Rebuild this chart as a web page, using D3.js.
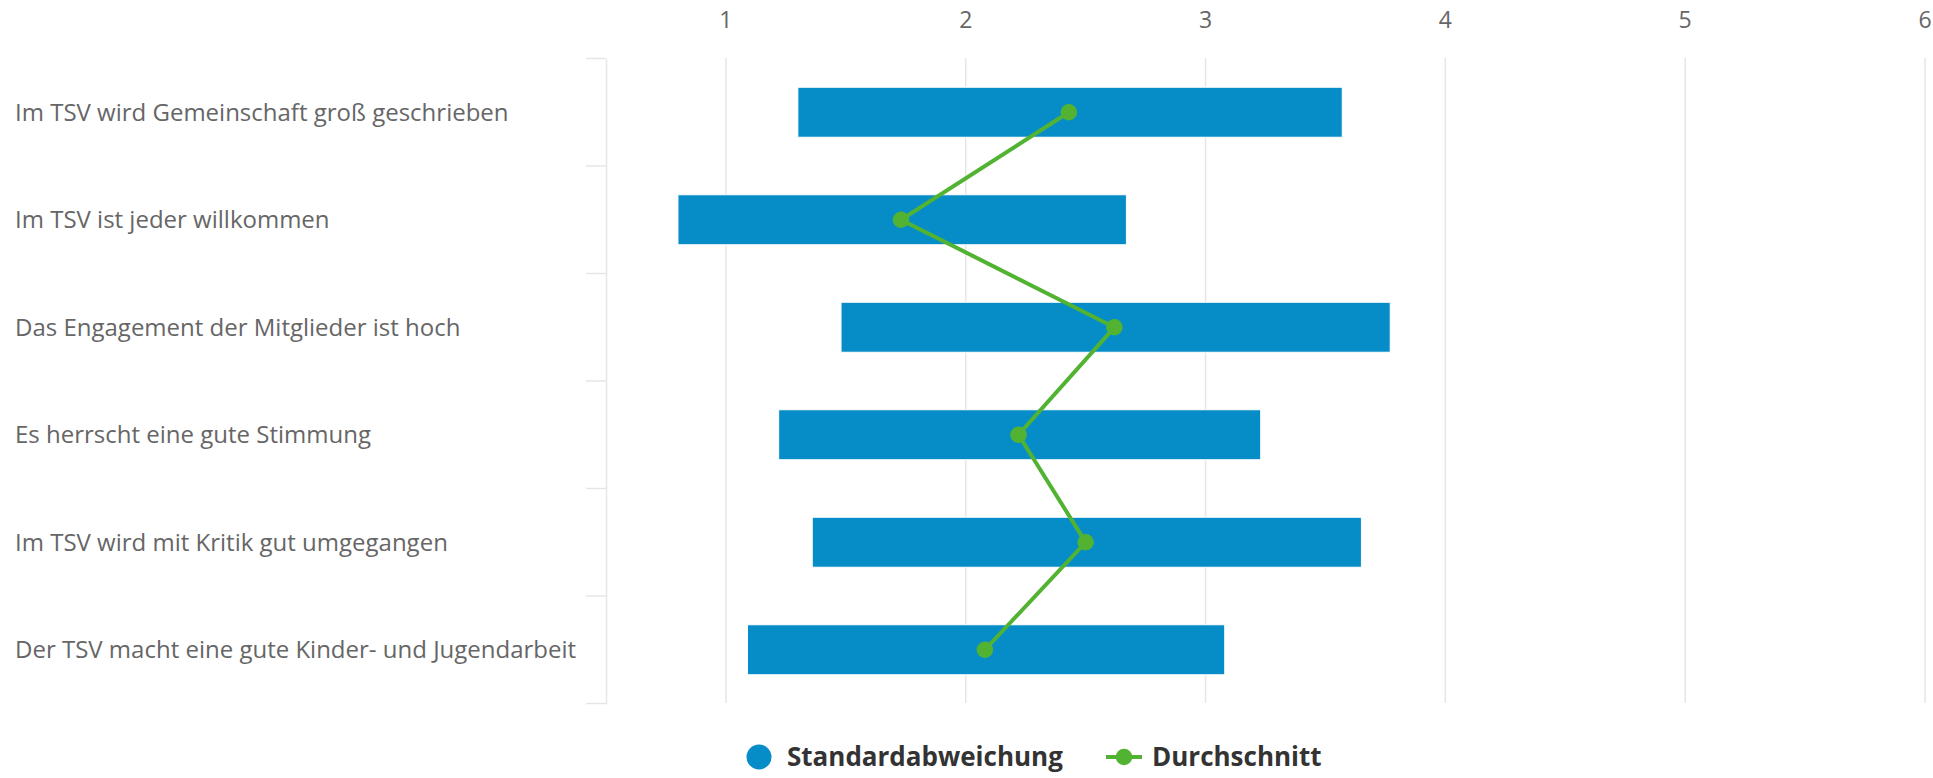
<!DOCTYPE html>
<html><head><meta charset="utf-8">
<script src="https://cdn.jsdelivr.net/npm/d3@7"></script>
<style>body{margin:0;background:#fff}svg{display:block}text{font-family:"Open Sans",sans-serif}</style>
</head><body><svg id="c" width="1933" height="778"></svg>
<script>
const categories = ["Im TSV wird Gemeinschaft groß geschrieben","Im TSV ist jeder willkommen","Das Engagement der Mitglieder ist hoch","Es herrscht eine gute Stimmung","Im TSV wird mit Kritik gut umgegangen","Der TSV macht eine gute Kinder- und Jugendarbeit"];
const sdLow = [1.30, 0.80, 1.48, 1.22, 1.36, 1.09];
const sdHigh = [3.57, 2.67, 3.77, 3.23, 3.65, 3.08];
const mean = [2.43, 1.73, 2.62, 2.22, 2.50, 2.08];
const xTicks = [1,2,3,4,5,6];
const legendLabels = ["Standardabweichung","Durchschnitt"];

const svg = d3.select("#c");
const x = d3.scaleLinear().domain([0.5, 6]).range([606, 1925]);
const y = d3.scaleBand().domain(categories).range([58.5, 703.5]).padding(0);
const barH = y.bandwidth()*0.465;
const blue = "#068dc7", green = "#52b332";

// grid
svg.append("g").selectAll("line").data(xTicks).join("line")
  .attr("x1", d=>x(d)).attr("x2", d=>x(d)).attr("y1", 58).attr("y2", 703)
  .attr("stroke", "#e6e6e6").attr("stroke-width", 1.5);
// top axis labels
svg.append("g").selectAll("text").data(xTicks).join("text")
  .attr("x", d=>x(d)).attr("y", 20).attr("dy","0.35em").attr("text-anchor","middle")
  .attr("font-size", 23).attr("fill", "#666").text(d=>d);
// left axis
const yAxis = d3.axisLeft(y).tickSize(0).tickFormat("");
const ga = svg.append("g").attr("transform","translate(606,0)").call(yAxis);
ga.select(".domain").attr("stroke","#e6e6e6").attr("stroke-width",1.5);
const bounds = categories.map(c=>y(c)).concat([y(categories[categories.length-1])+y.bandwidth()]);
svg.append("g").selectAll("line").data(bounds).join("line")
  .attr("x1",586).attr("x2",606).attr("y1",d=>d).attr("y2",d=>d)
  .attr("stroke","#e6e6e6").attr("stroke-width",1.5);
svg.append("g").selectAll("text").data(categories).join("text")
  .attr("x", 15).attr("y", d=>y(d)+y.bandwidth()/2).attr("dy","0.35em")
  .attr("font-size", 24).attr("fill","#666").text(d=>d);

// bars
svg.append("g").selectAll("rect").data(categories).join("rect")
  .attr("x",(d,i)=>x(sdLow[i])).attr("width",(d,i)=>x(sdHigh[i])-x(sdLow[i]))
  .attr("y", d=>y(d)+y.bandwidth()/2-barH/2).attr("height", barH)
  .attr("fill", blue).attr("stroke","#fff").attr("stroke-width",1);

// line
const line = d3.line().x(d=>x(d.v)).y(d=>y(d.c)+y.bandwidth()/2);
const pts = categories.map((c,i)=>({c, v: mean[i]}));
svg.append("path").datum(pts).attr("d", line).attr("fill","none").attr("stroke",green).attr("stroke-width",4);
svg.append("g").selectAll("circle").data(pts).join("circle")
  .attr("cx",d=>x(d.v)).attr("cy",d=>y(d.c)+y.bandwidth()/2).attr("r",8.3).attr("fill",green);

// legend
const lg = svg.append("g");
lg.append("circle").attr("cx",759).attr("cy",757).attr("r",12.5).attr("fill",blue);
lg.append("text").attr("x",787).attr("y",757).attr("dy","0.35em").attr("font-size",26).attr("font-weight","bold").attr("fill","#333").text(legendLabels[0]);
lg.append("line").attr("x1",1106).attr("x2",1142).attr("y1",757).attr("y2",757).attr("stroke",green).attr("stroke-width",4);
lg.append("circle").attr("cx",1124).attr("cy",757).attr("r",8.3).attr("fill",green);
lg.append("text").attr("x",1152).attr("y",757).attr("dy","0.35em").attr("font-size",26).attr("font-weight","bold").attr("fill","#333").text(legendLabels[1]);
</script></body></html>
